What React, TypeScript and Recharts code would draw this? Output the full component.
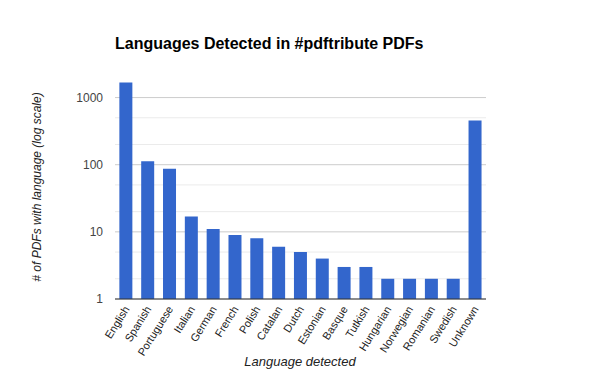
import { BarChart, Bar, XAxis, YAxis, CartesianGrid } from "recharts"

const languages = [
  "English", "Spanish", "Portuguese", "Italian", "German", "French", "Polish", "Catalan",
  "Dutch", "Estonian", "Basque", "Tutkish", "Hungarian", "Norwegian", "Romanian", "Swedish", "Unknown",
]
const pdfCounts = [1675, 113, 87, 17, 11, 9, 8, 6, 5, 4, 3, 3, 2, 2, 2, 2, 455]
const majorTicks = [1, 10, 100, 1000]
const gridTicks = [1, 2, 5, 10, 20, 50, 100, 200, 500, 1000]

const chartData = languages.map((name, i) => ({ name, count: pdfCounts[i] }))

function RotatedTick({ x, y, payload }: any) {
  return (
    <text
      x={x + 4}
      y={y + 2}
      transform={`rotate(-58, ${x + 4}, ${y + 2})`}
      textAnchor="end"
      fontSize={11}
      fill="#222"
      fontFamily="Arial, 'Liberation Sans', sans-serif"
    >
      {payload.value}
    </text>
  )
}

function GridLine(props: any) {
  const value = gridTicks[props.index]
  if (value === undefined) return <g />
  const major = majorTicks.includes(value)
  return (
    <line
      x1={props.x1}
      y1={props.y1}
      x2={props.x2}
      y2={props.y2}
      stroke={major ? "#cccccc" : "#ebebeb"}
      strokeWidth={1}
    />
  )
}

export default function App() {
  return (
    <div style={{ position: "absolute", left: 0, top: 0, width: 600, height: 371, background: "#fff", fontFamily: "Arial, 'Liberation Sans', sans-serif" }}>
      <div style={{ position: "absolute", left: 115, top: 35, fontSize: 16, fontWeight: "bold", color: "#000", whiteSpace: "nowrap" }}>
        Languages Detected in #pdftribute PDFs
      </div>
      <div
        style={{
          position: "absolute", left: 37, top: 187, fontSize: 12, fontStyle: "italic", color: "#222",
          whiteSpace: "nowrap", transform: "translate(-50%, -50%) rotate(-90deg)",
        }}
      >
        # of PDFs with language (log scale)
      </div>
      <div
        style={{
          position: "absolute", left: 300, top: 361, fontSize: 13, fontStyle: "italic", color: "#222",
          whiteSpace: "nowrap", transform: "translate(-50%, -50%)",
        }}
      >
        Language detected
      </div>
      <BarChart
        width={600}
        height={371}
        data={chartData}
        margin={{ top: 64, right: 114, bottom: 0, left: 0 }}
        barCategoryGap="20%"
      >
        <CartesianGrid vertical={false} horizontal={GridLine} />
        <XAxis
          dataKey="name"
          interval={0}
          height={72}
          tickLine={false}
          axisLine={{ stroke: "#333" }}
          tick={RotatedTick}
        />
        <YAxis
          type="number"
          scale="log"
          domain={[1, 3162]}
          allowDataOverflow
          ticks={gridTicks}
          interval={0}
          width={115}
          axisLine={false}
          tickLine={false}
          tickFormatter={(v: number) => (majorTicks.includes(v) ? String(v) : "")}
          tick={{ fontSize: 12, fill: "#444", dx: -4 }}
        />
        <Bar dataKey="count" fill="#3366cc" isAnimationActive={false} />
      </BarChart>
    </div>
  )
}
